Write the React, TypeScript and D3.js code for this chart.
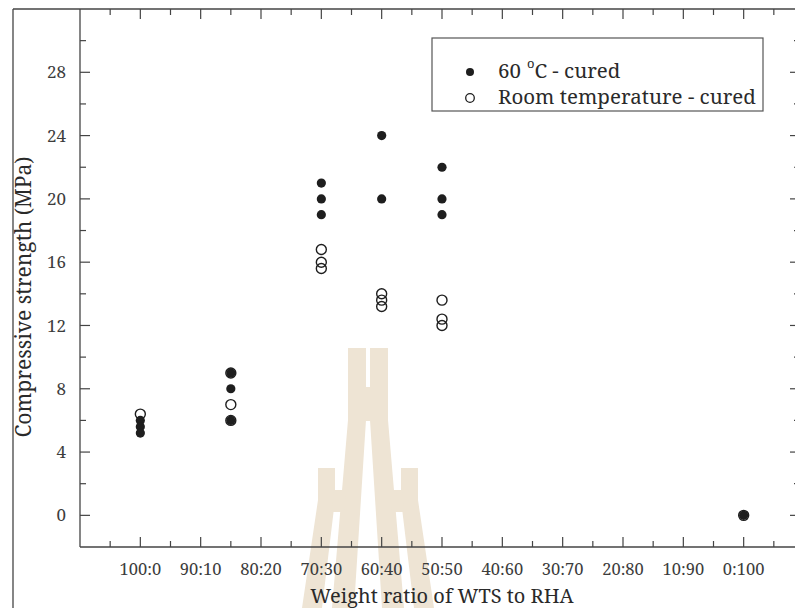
import React from 'react';
import * as d3 from 'd3';

// Tick labels (x = RHA %, label = WTS:RHA)
const ratioValues = [0, 10, 20, 30, 40, 50, 60, 70, 80, 90, 100];
const ratioLabels = ['100:0', '90:10', '80:20', '70:30', '60:40', '50:50', '40:60', '30:70', '20:80', '10:90', '0:100'];
const yMajorTicks = [0, 4, 8, 12, 16, 20, 24, 28];
const yMinorTicks = [2, 6, 10, 14, 18, 22, 26, 30];
const xMinorTicks = [-5, 5, 15, 25, 35, 45, 55, 65, 75, 85, 95, 105];

// 60 °C - cured
const heatRha = [0, 0, 0, 15, 15, 15, 30, 30, 30, 40, 40, 50, 50, 50, 100];
const heatStrength = [6.0, 5.6, 5.2, 9.0, 8.0, 6.0, 21, 20, 19, 24, 20, 22, 20, 19, 0];

// Room temperature - cured
const roomRha = [0, 15, 15, 15, 30, 30, 30, 40, 40, 40, 50, 50, 50, 100];
const roomStrength = [6.4, 9.0, 7.0, 6.0, 16.8, 16.0, 15.6, 14.0, 13.6, 13.2, 13.6, 12.4, 12.0, 0];

const W = 795;
const H = 608;
const FONT = '"Noto Serif", "DejaVu Serif", serif';
const AX = '#444';
const TXT = '#2a2a2a';
const TICK_TXT = '#3c3c3c';

export default function App() {
  const x = d3.scaleLinear().domain([-10, 110]).range([80, 804]);
  const y = d3.scaleLinear().domain([-2, 32]).range([547, 9]);
  const left = x(-10);
  const right = 800;
  const bottom = y(-2);
  const top = y(32);

  const heat = heatRha.map((r, i) => ({ r, v: heatStrength[i] }));
  const room = roomRha.map((r, i) => ({ r, v: roomStrength[i] }));

  const wmColor = '#eee4d4';
  const wm: [number, number][][] = [
    // central left leg
    [[348, 348], [366, 348], [366, 420], [354, 608], [332, 608], [348, 420]],
    // central right leg
    [[370, 348], [388, 348], [388, 420], [404, 608], [382, 608], [370, 420]],
    // central crossbar
    [[365, 387], [371, 387], [371, 421], [365, 421]],
    // left small leg
    [[318, 468], [335, 468], [335, 500], [322, 608], [302, 608], [318, 500]],
    // left crossbar
    [[334, 490], [346, 490], [344, 512], [332, 512]],
    // right small leg
    [[401, 468], [418, 468], [418, 500], [434, 608], [414, 608], [401, 500]],
    // right crossbar
    [[390, 490], [402, 490], [404, 512], [392, 512]],
  ];
  const line = d3.line();

  const textStyle = { fontFamily: FONT } as React.CSSProperties;

  return (
    <svg
      width={W}
      height={H}
      style={{ position: 'absolute', left: 0, top: 0, background: '#fff', fontFamily: FONT }}
    >
      <rect x={0} y={0} width={W} height={H} fill="#fff" />
      {wm.map((p, i) => (
        <path key={'wm' + i} d={line(p) + 'Z'} fill={wmColor} />
      ))}

      {/* outer frame */}
      <line x1={13} y1={9} x2={13} y2={H} stroke={AX} strokeWidth={1.3} />
      <line x1={13} y1={top} x2={W} y2={top} stroke={AX} strokeWidth={1.3} />

      {/* axes */}
      <line x1={left} y1={top} x2={left} y2={bottom} stroke={AX} strokeWidth={1.3} />
      <line x1={left} y1={bottom} x2={W} y2={bottom} stroke={AX} strokeWidth={1.3} />
      <line x1={right} y1={top} x2={right} y2={bottom} stroke={AX} strokeWidth={1.3} />

      {/* y ticks */}
      {yMajorTicks.map((t) => (
        <g key={'ym' + t}>
          <line x1={left} x2={left + 10} y1={y(t)} y2={y(t)} stroke={AX} strokeWidth={1.2} />
          <line x1={right} x2={right - 10} y1={y(t)} y2={y(t)} stroke={AX} strokeWidth={1.2} />
          <text x={66} y={y(t)} dy="0.36em" textAnchor="end" fontSize={17} fill={TICK_TXT} style={textStyle}>
            {t}
          </text>
        </g>
      ))}
      {yMinorTicks.map((t) => (
        <g key={'yn' + t}>
          <line x1={left} x2={left + 6} y1={y(t)} y2={y(t)} stroke={AX} strokeWidth={1.2} />
          <line x1={right} x2={right - 6} y1={y(t)} y2={y(t)} stroke={AX} strokeWidth={1.2} />
        </g>
      ))}

      {/* x ticks */}
      {ratioValues.map((t, i) => (
        <g key={'xm' + t}>
          <line x1={x(t)} x2={x(t)} y1={bottom} y2={bottom - 10} stroke={AX} strokeWidth={1.2} />
          <line x1={x(t)} x2={x(t)} y1={top} y2={top + 10} stroke={AX} strokeWidth={1.2} />
          <text x={x(t)} y={575} textAnchor="middle" fontSize={16.5} fill={TICK_TXT} style={textStyle}>
            {ratioLabels[i]}
          </text>
        </g>
      ))}
      {xMinorTicks.map((t) => (
        <g key={'xn' + t}>
          <line x1={x(t)} x2={x(t)} y1={bottom} y2={bottom - 6} stroke={AX} strokeWidth={1.2} />
          <line x1={x(t)} x2={x(t)} y1={top} y2={top + 6} stroke={AX} strokeWidth={1.2} />
        </g>
      ))}

      {/* axis titles */}
      <text x={442} y={603} textAnchor="middle" fontSize={20} fill={TXT} style={textStyle}>
        Weight ratio of WTS to RHA
      </text>
      <text
        transform={`translate(31, 297) rotate(-90)`}
        textAnchor="middle"
        fontSize={21}
        fill={TXT}
        style={textStyle}
      >
        Compressive strength (MPa)
      </text>

      {/* data */}
      {room.map((d, i) => (
        <circle key={'r' + i} cx={x(d.r)} cy={y(d.v)} r={5} fill="none" stroke="#1e1e1e" strokeWidth={1.4} />
      ))}
      {heat.map((d, i) => (
        <circle key={'h' + i} cx={x(d.r)} cy={y(d.v)} r={4.6} fill="#1e1e1e" />
      ))}

      {/* legend */}
      <rect x={432} y={38} width={331} height={73} fill="#fff" stroke="#555" strokeWidth={1.2} />
      <circle cx={470} cy={72} r={4} fill="#1e1e1e" />
      <circle cx={470} cy={98} r={4.3} fill="none" stroke="#1e1e1e" strokeWidth={1.3} />
      <text x={498} y={78} fontSize={20.5} fill={TXT} style={textStyle}>
        60
        <tspan dx={6} dy={-10} fontSize={13}>o</tspan>
        <tspan dy={10}>C - cured</tspan>
      </text>
      <text x={498} y={104} fontSize={20.5} fill={TXT} style={textStyle}>
        Room temperature - cured
      </text>
    </svg>
  );
}
